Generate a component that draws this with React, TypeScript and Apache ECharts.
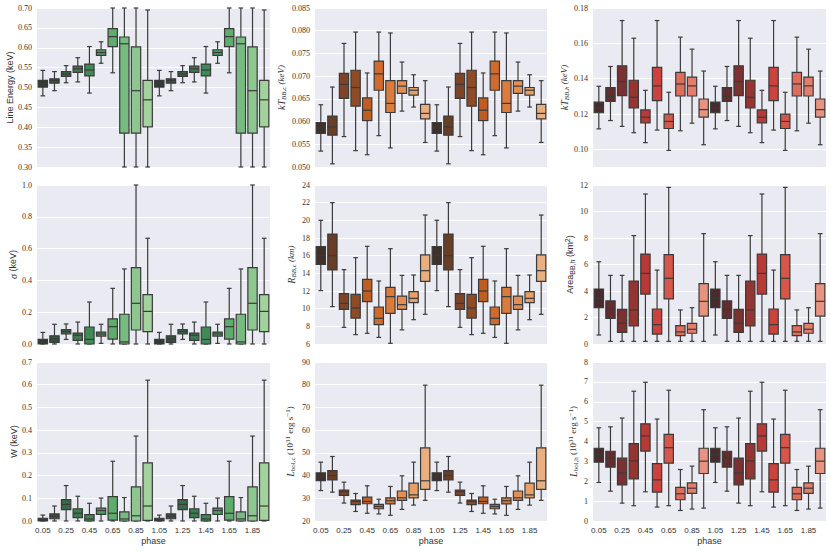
import React, { useEffect, useRef } from "react";
import * as echarts from "echarts";

// phase categories (two cycles)
const phases = [
  "0.05", "0.15", "0.25", "0.35", "0.45", "0.55", "0.65", "0.75", "0.85", "0.95",
  "1.05", "1.15", "1.25", "1.35", "1.45", "1.55", "1.65", "1.75", "1.85", "1.95",
];

// palettes (dark -> light)
const greens = ["#2e3d32", "#37523f", "#396a47", "#3d7b4f", "#3f8b55", "#4b9d60", "#5fad6d", "#77bb81", "#8dc68f", "#a3d39d"];
const oranges = ["#3f3129", "#693e26", "#7d4428", "#8f4a26", "#c05d22", "#d26a2c", "#db7b3c", "#e38e55", "#e8a067", "#ebaf7f"];
const reds = ["#4a2b2b", "#632d2d", "#7c3131", "#963431", "#b83a36", "#cc433d", "#d65649", "#df6d5c", "#e47e6c", "#e8937f"];

// box values per phase bin (0.05..0.95): [low whisker, Q1, median, Q3, high whisker]
const lineEnergy = [
  [0.479, 0.501, 0.509, 0.518, 0.543],
  [0.492, 0.511, 0.518, 0.522, 0.540],
  [0.512, 0.528, 0.534, 0.540, 0.555],
  [0.514, 0.538, 0.547, 0.554, 0.575],
  [0.486, 0.529, 0.544, 0.559, 0.603],
  [0.561, 0.581, 0.588, 0.595, 0.615],
  [0.537, 0.603, 0.628, 0.648, 0.700],
  [0.300, 0.385, 0.610, 0.627, 0.700],
  [0.300, 0.385, 0.492, 0.602, 0.700],
  [0.300, 0.401, 0.469, 0.518, 0.695],
];
const kTbbc = [
  [0.0535, 0.0574, 0.0586, 0.0598, 0.0637],
  [0.0507, 0.0570, 0.0588, 0.0612, 0.0676],
  [0.0567, 0.0651, 0.0682, 0.0706, 0.0772],
  [0.0536, 0.0634, 0.0675, 0.0713, 0.0797],
  [0.0527, 0.0602, 0.0625, 0.0652, 0.0707],
  [0.0569, 0.0669, 0.0705, 0.0733, 0.0797],
  [0.0542, 0.0620, 0.0640, 0.0690, 0.0795],
  [0.0623, 0.0662, 0.0678, 0.0690, 0.0731],
  [0.0632, 0.0658, 0.0669, 0.0675, 0.0703],
  [0.0554, 0.0606, 0.0618, 0.0638, 0.0690],
];
const kTbbh = [
  [0.1116, 0.1207, 0.1235, 0.1267, 0.1357],
  [0.1163, 0.1272, 0.1300, 0.1349, 0.1469],
  [0.1130, 0.1304, 0.1383, 0.1473, 0.1729],
  [0.1094, 0.1235, 0.1295, 0.1391, 0.1629],
  [0.1038, 0.1150, 0.1182, 0.1223, 0.1334],
  [0.1109, 0.1276, 0.1359, 0.1464, 0.1729],
  [0.0994, 0.1118, 0.1158, 0.1199, 0.1323],
  [0.1105, 0.1302, 0.1370, 0.1436, 0.1635],
  [0.1148, 0.1302, 0.1359, 0.1409, 0.1567],
  [0.1026, 0.1182, 0.1225, 0.1285, 0.1443],
];
const sigma = [
  [0.0, 0.0, 0.013, 0.029, 0.073],
  [0.0, 0.010, 0.031, 0.052, 0.124],
  [0.029, 0.063, 0.078, 0.090, 0.126],
  [0.0, 0.023, 0.055, 0.069, 0.138],
  [0.0, 0.0, 0.029, 0.107, 0.264],
  [0.004, 0.050, 0.063, 0.075, 0.124],
  [0.0, 0.031, 0.109, 0.158, 0.350],
  [0.0, 0.0, 0.013, 0.187, 0.472],
  [0.0, 0.088, 0.256, 0.480, 1.0],
  [0.0, 0.078, 0.205, 0.310, 0.665],
];
const rbbc = [
  [12.04, 15.02, 16.04, 17.02, 20.0],
  [10.23, 14.38, 16.0, 18.45, 22.0],
  [7.89, 9.92, 10.6, 11.7, 14.42],
  [7.06, 8.94, 10.08, 11.62, 15.77],
  [7.21, 10.79, 12.0, 13.32, 17.06],
  [6.75, 8.19, 8.91, 10.19, 13.13],
  [6.08, 9.47, 11.36, 12.42, 16.79],
  [7.6, 9.92, 10.45, 11.43, 13.77],
  [8.75, 10.68, 11.17, 11.92, 13.81],
  [9.36, 13.09, 14.3, 16.08, 20.6],
];
const areaBbh = [
  [0.68, 2.74, 3.45, 4.15, 6.21],
  [0.2, 1.94, 2.62, 3.25, 5.18],
  [0.2, 0.88, 1.57, 2.62, 5.18],
  [0.2, 1.36, 2.57, 4.75, 8.18],
  [0.2, 3.77, 5.33, 6.79, 11.32],
  [0.2, 0.75, 1.46, 2.64, 5.58],
  [0.2, 3.4, 4.96, 6.74, 11.82],
  [0.2, 0.63, 0.91, 1.38, 2.57],
  [0.2, 0.81, 1.11, 1.56, 2.74],
  [0.2, 2.11, 3.22, 4.55, 8.33],
];
const width = [
  [0.0, 0.0, 0.007, 0.012, 0.026],
  [0.0, 0.010, 0.021, 0.031, 0.066],
  [0.0, 0.050, 0.073, 0.094, 0.156],
  [0.0, 0.015, 0.034, 0.054, 0.109],
  [0.0, 0.0, 0.009, 0.028, 0.078],
  [0.0, 0.029, 0.046, 0.057, 0.101],
  [0.0, 0.004, 0.034, 0.107, 0.263],
  [0.0, 0.0, 0.009, 0.040, 0.103],
  [0.0, 0.0, 0.023, 0.150, 0.374],
  [0.0, 0.003, 0.066, 0.256, 0.620],
];
const lbolc = [
  [33.4, 37.8, 39.4, 41.2, 45.9],
  [32.7, 38.1, 40.0, 42.2, 48.4],
  [27.9, 31.3, 32.9, 33.6, 37.1],
  [24.2, 27.2, 28.6, 29.2, 32.1],
  [23.4, 27.6, 28.6, 30.5, 35.5],
  [23.1, 25.4, 26.4, 27.3, 29.6],
  [22.5, 27.5, 28.9, 30.2, 35.2],
  [25.1, 29.1, 30.2, 33.2, 39.9],
  [27.0, 30.2, 31.5, 36.7, 45.9],
  [29.1, 33.9, 37.7, 52.2, 79.8],
];
const lbolh = [
  [1.94, 2.96, 3.34, 3.66, 4.69],
  [1.50, 2.71, 3.17, 3.51, 4.74],
  [0.90, 1.82, 2.42, 3.16, 5.18],
  [0.77, 2.12, 3.02, 3.89, 6.53],
  [1.47, 3.52, 4.28, 4.89, 6.98],
  [0.70, 1.45, 2.07, 2.89, 5.13],
  [0.77, 2.91, 3.69, 4.36, 6.58],
  [0.53, 1.07, 1.37, 1.69, 2.59],
  [0.60, 1.39, 1.65, 1.92, 2.76],
  [0.65, 2.39, 3.01, 3.66, 5.60],
];

const SERIF = "'Liberation Serif', 'DejaVu Serif', serif";
const SANS = "'Liberation Sans', 'DejaVu Sans', sans-serif";
const TEXT = "#333333";
const EDGE = "#3a3a3a";

const colLeft = [37, 315, 593];
const colWidth = [233, 232, 233];
const rowTop = [8, 185, 362];
const rowHeight = 159;

const richBase = (family: string, italic: boolean) => ({
  i: { fontFamily: SERIF, fontStyle: "italic", fontSize: 10, color: TEXT },
  s: { fontFamily: family, fontStyle: italic ? "italic" : "normal", fontSize: 7, color: TEXT, padding: [5, 0, 0, 0] },
  p: { fontFamily: family, fontStyle: italic ? "italic" : "normal", fontSize: 7, color: TEXT, padding: [0, 0, 5, 0] },
});

type Panel = {
  data: number[][];
  pal: string[];
  min: number;
  max: number;
  interval?: number;
  custom?: number[];
  dec: number;
  name: string;
  family: string;
  italic: boolean;
  gap: number;
};

const panels: Panel[] = [
  { data: lineEnergy, pal: greens, min: 0.3, max: 0.7, interval: 0.05, dec: 2, name: "Line Energy (keV)", family: SANS, italic: false, gap: 22 },
  { data: kTbbc, pal: oranges, min: 0.05, max: 0.085, interval: 0.005, dec: 3, name: "{i|kT}{s|BB,c} (keV)", family: SERIF, italic: true, gap: 28 },
  { data: kTbbh, pal: reds, min: 0.09, max: 0.18, custom: [0.1, 0.12, 0.14, 0.16, 0.18], dec: 2, name: "{i|kT}{s|BB,h} (keV)", family: SERIF, italic: true, gap: 22 },
  { data: sigma, pal: greens, min: 0, max: 1.0, interval: 0.2, dec: 1, name: "{i|σ} (keV)", family: SANS, italic: false, gap: 19 },
  { data: rbbc, pal: oranges, min: 6, max: 24, interval: 2, dec: 0, name: "{i|R}{s|BB,c} (km)", family: SERIF, italic: true, gap: 18 },
  { data: areaBbh, pal: reds, min: 0, max: 12, interval: 2, dec: 0, name: "Area{s|BB,h} (km{p|2})", family: SANS, italic: false, gap: 16 },
  { data: width, pal: greens, min: 0, max: 0.7, interval: 0.1, dec: 1, name: "W (keV)", family: SANS, italic: false, gap: 19 },
  { data: lbolc, pal: oranges, min: 20, max: 90, interval: 10, dec: 0, name: "{i|L}{s|bol,c} (10{p|31} erg s{p|−1})", family: SERIF, italic: false, gap: 19 },
  { data: lbolh, pal: reds, min: 0, max: 8, interval: 1, dec: 0, name: "{i|L}{s|bol,h} (10{p|31} erg s{p|−1})", family: SERIF, italic: false, gap: 14 },
];

function buildOption() {
  const grid: any[] = [];
  const xAxis: any[] = [];
  const yAxis: any[] = [];
  const series: any[] = [];
  panels.forEach((p, k) => {
    const row = Math.floor(k / 3);
    const col = k % 3;
    const bottom = row === 2;
    grid.push({
      left: colLeft[col],
      top: rowTop[row],
      width: colWidth[col],
      height: rowHeight,
      show: true,
      backgroundColor: "#eaeaf2",
      borderWidth: 0,
      containLabel: false,
    });
    xAxis.push({
      type: "category",
      gridIndex: k,
      data: phases,
      boundaryGap: true,
      axisLine: { show: false },
      axisTick: { show: false },
      splitLine: { show: false },
      axisLabel: {
        show: bottom,
        interval: 1,
        margin: 5,
        fontFamily: SANS,
        fontSize: 8,
        color: TEXT,
      },
      name: bottom ? "phase" : "",
      nameLocation: "middle",
      nameGap: 15,
      nameTextStyle: { fontFamily: SANS, fontSize: 9, color: TEXT },
    });
    const y: any = {
      type: "value",
      gridIndex: k,
      min: p.min,
      max: p.max,
      axisLine: { show: false },
      splitLine: { show: true, lineStyle: { color: "#ffffff", width: 1 } },
      axisLabel: {
        fontFamily: SERIF,
        fontSize: 8,
        color: TEXT,
        margin: 5,
        formatter: (v: number) => v.toFixed(p.dec),
      },
      name: p.name,
      nameLocation: "middle",
      nameRotate: 90,
      nameGap: p.gap,
      nameTextStyle: {
        fontFamily: p.family,
        fontStyle: p.italic ? "italic" : "normal",
        fontSize: 9,
        color: TEXT,
        rich: richBase(p.family, p.italic),
      },
    };
    if (p.custom) {
      y.axisTick = { show: false, customValues: p.custom };
      y.axisLabel.customValues = p.custom;
    } else {
      y.interval = p.interval;
      y.axisTick = { show: false };
    }
    yAxis.push(y);
    const pal = p.pal;
    const src = phases.map((_, i) => {
      const v = p.data[i % p.data.length];
      return [i, v[0], v[1], v[2], v[3], v[4]];
    });
    series.push({
      type: "custom",
      xAxisIndex: k,
      yAxisIndex: k,
      data: src,
      encode: { x: 0, y: [1, 2, 3, 4, 5] },
      renderItem: (params: any, api: any) => {
        const i = api.value(0);
        const pLo = api.coord([i, api.value(1)]);
        const pQ1 = api.coord([i, api.value(2)]);
        const pMd = api.coord([i, api.value(3)]);
        const pQ3 = api.coord([i, api.value(4)]);
        const pHi = api.coord([i, api.value(5)]);
        const band = api.size([1, 0])[0];
        const bw = band * 0.8;
        const cw = bw * 0.5;
        const x = pLo[0];
        const ls = { stroke: EDGE, lineWidth: 1.2 };
        return {
          type: "group",
          children: [
            { type: "line", shape: { x1: x, y1: pLo[1], x2: x, y2: pQ1[1] }, style: ls },
            { type: "line", shape: { x1: x, y1: pQ3[1], x2: x, y2: pHi[1] }, style: ls },
            { type: "line", shape: { x1: x - cw / 2, y1: pLo[1], x2: x + cw / 2, y2: pLo[1] }, style: ls },
            { type: "line", shape: { x1: x - cw / 2, y1: pHi[1], x2: x + cw / 2, y2: pHi[1] }, style: ls },
            {
              type: "rect",
              shape: { x: x - bw / 2, y: pQ3[1], width: bw, height: pQ1[1] - pQ3[1] },
              style: { fill: pal[i % pal.length], stroke: EDGE, lineWidth: 1.2 },
            },
            { type: "line", shape: { x1: x - bw / 2, y1: pMd[1], x2: x + bw / 2, y2: pMd[1] }, style: ls },
          ],
        };
      },
    });
  });
  return {
    animation: false,
    backgroundColor: "#ffffff",
    grid,
    xAxis,
    yAxis,
    series,
  };
}

export default function App() {
  const ref = useRef<HTMLDivElement>(null);
  useEffect(() => {
    if (!ref.current) return;
    const chart = echarts.init(ref.current, undefined, { renderer: "svg" });
    chart.setOption(buildOption() as any);
    return () => chart.dispose();
  }, []);
  return (
    <div
      ref={ref}
      style={{ position: "fixed", left: 0, top: 0, width: 831, height: 551, background: "#fff" }}
    />
  );
}
